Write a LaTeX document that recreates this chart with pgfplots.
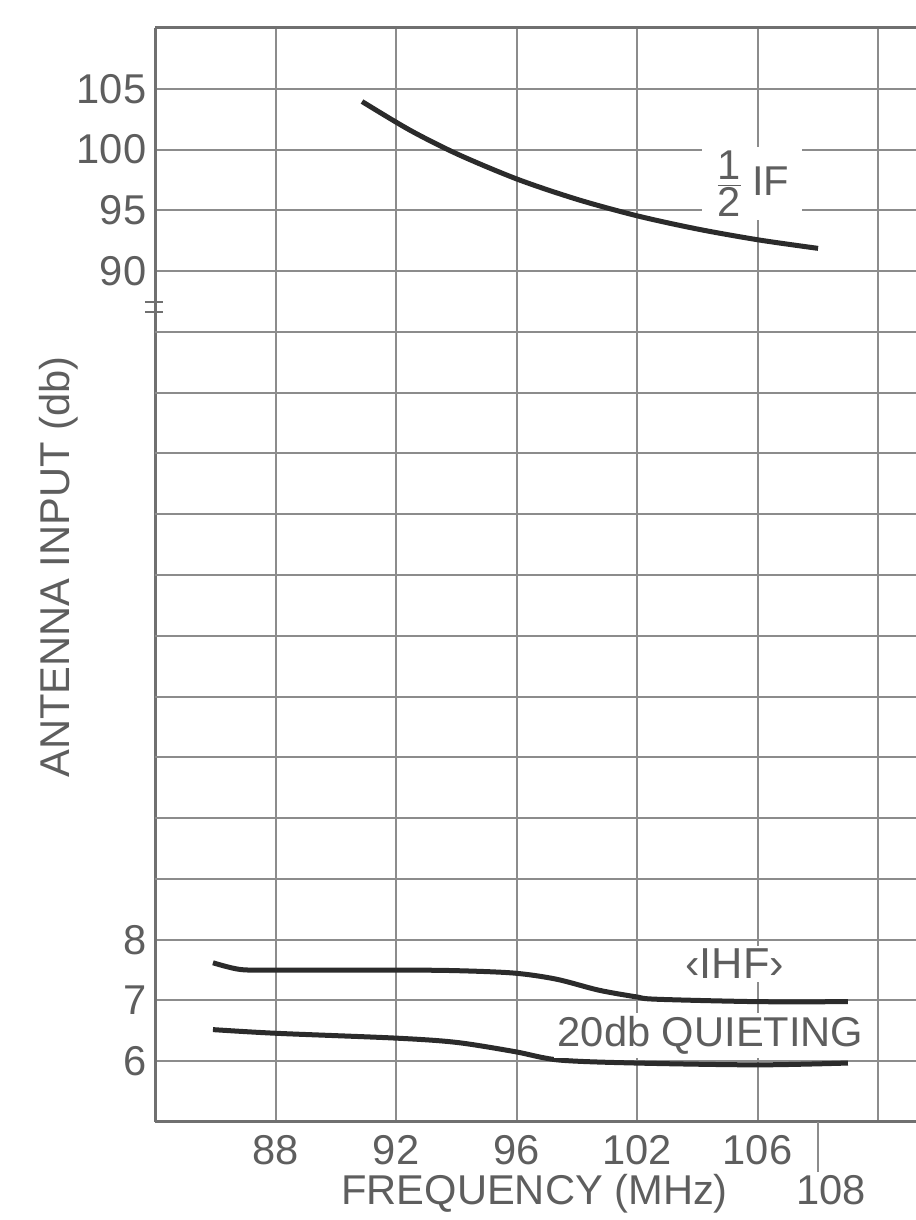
\documentclass[border=0pt]{standalone}
\usepackage{fontspec}
\setmainfont{Liberation Sans}
\usepackage{pgfplots}
\pgfplotsset{compat=1.18}
\definecolor{txt}{HTML}{5E5E5E}
\definecolor{gridc}{HTML}{8C8C8C}
\definecolor{axc}{HTML}{707070}
\definecolor{crv}{HTML}{2B2B2B}
\begin{document}
\begin{tikzpicture}
\pgfplotsset{
  common/.style={
    scale only axis, width=228.3pt, xmin=0, xmax=6.315,
    axis y line*=left,
    axis line style={axc, line width=0.9pt},
    grid=major, major grid style={gridc, line width=0.6pt},
    major tick length=0pt,
    /pgf/number format/assume math mode=true,
    tick label style={font=\fontsize{12.5}{14}\selectfont, text=txt, inner sep=0pt},
    yticklabel style={anchor=east, xshift=-2.4pt},
    clip=false,
  }
}
% lower section (dB 5 ... 18.5)
\begin{axis}[common, name=bot, at={(0,0)}, anchor=south west, height=246.15pt,
  ymin=5, ymax=18.5, axis x line*=bottom,
  xtick={1,2,3,4,5,6}, xticklabels={88,92,96,102,106,{}},
  xticklabel style={anchor=north, yshift=-3.9pt},
  ytick={6,7,8}, extra y ticks={9,10,...,18}, extra y tick labels={},
  extra x ticks={5.5}, extra x tick labels={108},
  extra x tick style={grid=none, tick align=outside, major tick length=15pt,
    tick style={gridc, line width=0.5pt},
    xticklabel style={anchor=north, xshift=3.9pt, yshift=3pt}},
]
% <IHF> curve
\addplot[crv, line width=1.5pt, smooth, tension=0.5] coordinates {
  (0.481,7.62) (0.705,7.51) (1.0,7.50) (2.0,7.50) (2.5,7.49) (2.98,7.45)
  (3.33,7.35) (3.68,7.17) (3.99,7.06) (4.16,7.02) (5.0,6.98) (5.75,6.98)};
% 20db quieting curve
\addplot[crv, line width=1.5pt, smooth, tension=0.5] coordinates {
  (0.481,6.52) (1.0,6.46) (2.0,6.38) (2.5,6.31) (2.98,6.16) (3.35,6.02)
  (3.99,5.97) (5.0,5.94) (5.75,5.97)};
\node[fill=white, inner sep=1pt, text=txt, font=\fontsize{13}{15}\selectfont]
  at (axis cs:4.81,7.6) {‹IHF›};
\node[fill=white, inner sep=1pt, text=txt, font=\fontsize{12.5}{15}\selectfont]
  at (axis cs:4.61,6.42) {20db QUIETING};
\node[text=txt, font=\fontsize{12.5}{15}\selectfont]
  at (axis cs:3.15,5) [yshift=-21.6pt] {FREQUENCY (MHz)};
\end{axis}
% upper section (dB 87.5 ... 110)
\begin{axis}[common, name=top, at={(0,246.15pt)}, anchor=south west, height=82.05pt,
  ymin=87.5, ymax=110, axis x line*=top,
  xtick={1,2,3,4,5,6}, xticklabels={},
  ytick={90,95,100,105},
]
\addplot[crv, line width=1.5pt, smooth, tension=0.5] coordinates {
  (1.718,103.95) (2.116,101.59) (2.515,99.60) (3.012,97.54) (3.510,95.88)
  (4.008,94.53) (4.506,93.45) (5.012,92.56) (5.502,91.87)};
\node[fill=white, inner sep=0pt, minimum width=30pt, minimum height=22pt,
  text=txt, font=\fontsize{12.5}{15}\selectfont]
  at (axis cs:4.95,97.2) {$\frac{\mbox{1}}{\mbox{2}}$\,IF};
\end{axis}
% axis break mark
\draw[axc, line width=0.8pt] (-3pt,246pt) -- (2.4pt,246pt);
\draw[axc, line width=0.8pt] (-3pt,243pt) -- (2.4pt,243pt);
% y label
\node[rotate=90, text=txt, font=\fontsize{12.5}{15}\selectfont]
  at (-28.8pt,166.5pt) {ANTENNA INPUT (db)};
\pgfresetboundingbox
\useasboundingbox (-46.5pt,-29.4pt) rectangle (228.3pt,336.6pt);
\end{tikzpicture}
\end{document}
